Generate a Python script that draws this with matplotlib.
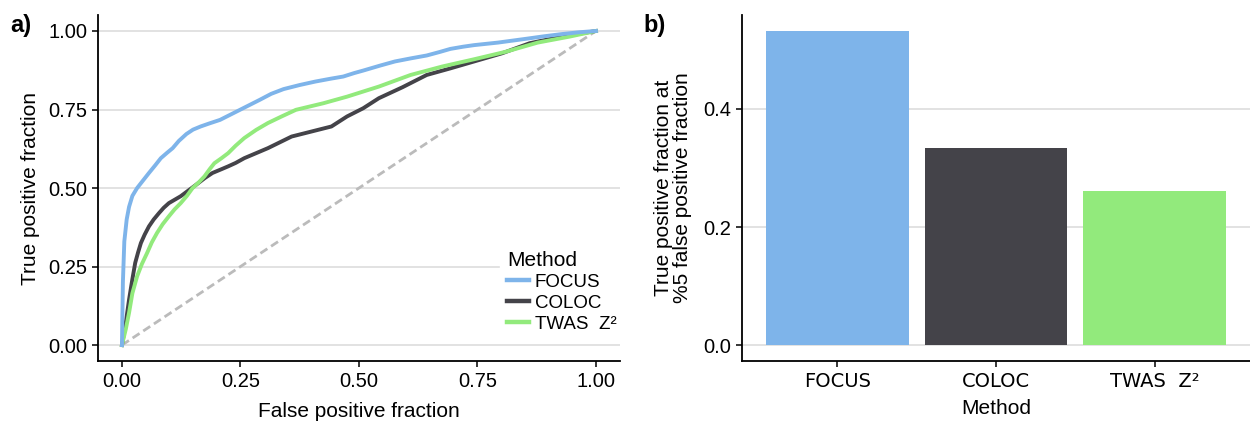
import numpy as np
import matplotlib
matplotlib.use("Agg")
import matplotlib.pyplot as plt

plt.rcParams['font.family'] = ['Liberation Sans', 'DejaVu Sans']

# ROC curves
focus_fpr = [0, 0.002, 0.005, 0.010, 0.015, 0.022, 0.032, 0.045, 0.057, 0.070, 0.082,
             0.095, 0.107, 0.120, 0.136, 0.150, 0.166, 0.185, 0.207, 0.228, 0.249,
             0.270, 0.291, 0.315, 0.341, 0.375, 0.408, 0.440, 0.467, 0.490, 0.509,
             0.545, 0.576, 0.610, 0.643, 0.670, 0.693, 0.720, 0.743, 0.793, 0.852,
             0.890, 0.927, 0.965, 1.0]
focus_tpr = [0, 0.2, 0.330, 0.400, 0.440, 0.475, 0.50, 0.525, 0.548, 0.572, 0.595,
             0.612, 0.627, 0.650, 0.672, 0.686, 0.696, 0.706, 0.717, 0.733, 0.749,
             0.765, 0.781, 0.800, 0.815, 0.828, 0.839, 0.848, 0.855, 0.866, 0.874,
             0.890, 0.903, 0.913, 0.922, 0.933, 0.943, 0.950, 0.955, 0.963, 0.975,
             0.983, 0.99, 0.996, 1.0]

coloc_fpr = [0, 0.008, 0.015, 0.022, 0.028, 0.034, 0.040, 0.048, 0.057, 0.067, 0.078,
             0.088, 0.099, 0.124, 0.140, 0.157, 0.175, 0.191, 0.210, 0.224, 0.240,
             0.258, 0.308, 0.358, 0.40, 0.442, 0.475, 0.509, 0.542, 0.592, 0.643,
             0.693, 0.743, 0.802, 0.860, 0.927, 1.0]
coloc_tpr = [0, 0.070, 0.145, 0.210, 0.262, 0.295, 0.325, 0.352, 0.378, 0.400, 0.42,
             0.437, 0.452, 0.474, 0.492, 0.511, 0.532, 0.548, 0.560, 0.569, 0.580,
             0.595, 0.627, 0.664, 0.68, 0.696, 0.728, 0.754, 0.786, 0.821, 0.86,
             0.881, 0.903, 0.929, 0.961, 0.982, 1.0]

twas_fpr = [0, 0.008, 0.015, 0.022, 0.032, 0.042, 0.053, 0.063, 0.074, 0.086, 0.099,
            0.111, 0.124, 0.137, 0.149, 0.162, 0.174, 0.185, 0.195, 0.210, 0.224,
            0.240, 0.258, 0.283, 0.308, 0.337, 0.367, 0.425, 0.475, 0.542, 0.609,
            0.676, 0.743, 0.810, 0.877, 0.944, 1.0]
twas_tpr = [0, 0.050, 0.103, 0.165, 0.219, 0.258, 0.293, 0.327, 0.357, 0.385, 0.41,
            0.432, 0.452, 0.475, 0.50, 0.518, 0.537, 0.560, 0.579, 0.595, 0.611,
            0.635, 0.659, 0.685, 0.707, 0.728, 0.749, 0.77, 0.791, 0.823, 0.86,
            0.887, 0.91, 0.934, 0.963, 0.982, 1.0]

# panel b
methods = ['FOCUS', 'COLOC', 'TWAS  Z²']
tpr_at_5 = [0.532, 0.334, 0.261]

colors = ['#7EB4EA', '#444349', '#92EA7C']
grid_col = '#DDDDDD'

fig = plt.figure(figsize=(12.5, 4.28), dpi=100)
ax1 = fig.add_axes([0.0786, 0.157, 0.4171, 0.8073])
ax2 = fig.add_axes([0.5936, 0.157, 0.4064, 0.8073])

for ax in (ax1, ax2):
    for s in ('top', 'right'):
        ax.spines[s].set_visible(False)
    for s in ('left', 'bottom'):
        ax.spines[s].set_linewidth(1.3)
    ax.tick_params(length=4, width=1.1, labelsize=14.5, pad=4)
    ax.yaxis.grid(True, color=grid_col, linewidth=1.2)
    ax.set_axisbelow(True)

# panel a
ax1.plot([0, 1], [0, 1], color='#BBBBBB', lw=2, ls=(0, (3, 1.6)), zorder=1)
ax1.plot(coloc_fpr, coloc_tpr, color=colors[1], lw=2.8, label='COLOC', zorder=3)
ax1.plot(twas_fpr, twas_tpr, color=colors[2], lw=2.8, label='TWAS  Z²', zorder=3)
ax1.plot(focus_fpr, focus_tpr, color=colors[0], lw=2.8, label='FOCUS', zorder=3)
ax1.set_xlim(-0.05, 1.05)
ax1.set_ylim(-0.05, 1.05)
ax1.set_xticks([0, 0.25, 0.5, 0.75, 1.0])
ax1.set_xticklabels(['0.00', '0.25', '0.50', '0.75', '1.00'])
ax1.set_yticks([0, 0.25, 0.5, 0.75, 1.0])
ax1.set_yticklabels(['0.00', '0.25', '0.50', '0.75', '1.00'])
ax1.set_xlabel('False positive fraction', fontsize=15, labelpad=8)
ax1.set_ylabel('True positive fraction', fontsize=15, labelpad=6)

h, l = ax1.get_legend_handles_labels()
order = [2, 0, 1]
leg = ax1.legend([h[i] for i in order], [l[i] for i in order], title='Method',
                 loc='lower right', bbox_to_anchor=(1.025, 0.035), frameon=True,
                 fontsize=13.5, title_fontsize=15, handlelength=1.2,
                 handletextpad=0.3, labelspacing=0.2, borderpad=0.35,
                 alignment='left')
leg.get_frame().set_facecolor('white')
leg.get_frame().set_edgecolor('white')
leg.get_frame().set_alpha(1)
leg._legend_box.sep = 3
for line in leg.get_lines():
    line.set_linewidth(3.2)

# panel b
x = np.arange(1, len(methods) + 1)
ax2.bar(x, tpr_at_5, width=0.9, color=colors, zorder=2)
ax2.set_xlim(0.4, 3.6)
ax2.set_ylim(-0.0266, 0.5586)
ax2.set_yticks([0.0, 0.2, 0.4])
ax2.set_yticklabels(['0.0', '0.2', '0.4'])
ax2.set_xticks(x)
ax2.set_xticklabels(methods, family='DejaVu Sans', fontsize=14)
ax2.set_xlabel('Method', fontsize=15, labelpad=6)
ax2.set_ylabel('True positive fraction at\n%5 false positive fraction',
               fontsize=15, labelpad=8, linespacing=1.0)

fig.text(0.008, 0.968, 'a)', fontsize=17, fontweight='bold', va='top')
fig.text(0.515, 0.968, 'b)', fontsize=17, fontweight='bold', va='top')

fig.savefig('out.png', dpi=100)
